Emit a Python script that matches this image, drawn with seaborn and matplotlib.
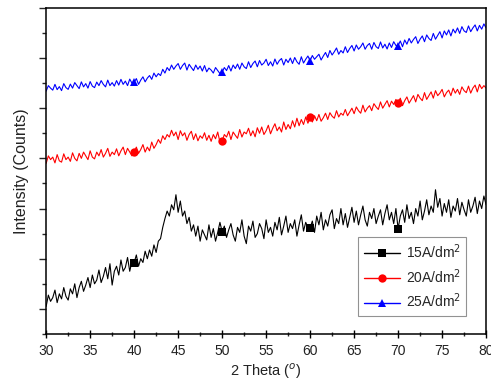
import numpy as np
import pandas as pd
import matplotlib
matplotlib.use("Agg")
import matplotlib.pyplot as plt
import seaborn as sns
from matplotlib.ticker import MultipleLocator, NullFormatter

two_theta = [30 + 0.25 * i for i in range(201)]

i_15 = [
    1.10, 1.55, 1.30, 1.45, 1.75, 1.25, 1.60, 1.40, 1.85, 1.50, 1.35, 1.80,
    1.60, 2.00, 1.45, 1.85, 2.10, 1.70, 1.95, 2.25, 1.85, 2.35, 2.00, 2.15,
    2.55, 2.05, 2.30, 2.65, 2.20, 2.80, 1.95, 2.50, 2.70, 2.35, 2.95, 2.50,
    2.65, 3.05, 2.50, 2.90, 2.84, 3.15, 2.70, 3.00, 2.85, 3.30, 3.00, 3.35,
    3.10, 3.55, 3.25, 3.70, 3.80, 4.25, 4.60, 4.90, 4.70, 5.15, 4.95, 5.55,
    4.85, 5.30, 4.70, 4.90, 4.40, 4.65, 4.10, 4.35, 3.90, 4.30, 3.70, 4.15,
    3.95, 3.75, 4.35, 3.85, 4.20, 3.70, 4.05, 4.45, 4.08, 4.30, 3.85, 4.15,
    4.40, 3.95, 3.70, 4.25, 4.05, 4.55, 3.90, 3.60, 4.30, 4.10, 4.50, 3.85,
    4.00, 4.40, 4.20, 3.80, 4.55, 4.05, 4.25, 3.90, 4.45, 4.15, 4.65, 3.95,
    4.30, 4.70, 4.05, 4.40, 4.20, 4.55, 3.90, 4.35, 4.75, 4.10, 4.45, 4.25,
    4.23, 4.50, 4.05, 4.70, 4.35, 4.85, 4.15, 4.55, 4.30, 4.75, 4.95, 4.20,
    4.60, 4.40, 5.00, 4.35, 4.80, 4.25, 4.65, 5.05, 4.45, 4.90, 4.35, 4.75,
    5.10, 4.55, 4.30, 4.85, 4.60, 5.00, 4.40, 4.70, 4.95, 4.35, 4.80, 5.15,
    4.55, 4.85, 4.40, 5.00, 4.19, 4.70, 4.95, 4.45, 5.15, 4.60, 4.85, 4.40,
    5.00, 4.70, 5.30, 4.55, 4.90, 5.35, 4.75, 5.10, 4.85, 5.75, 5.05, 5.40,
    4.70, 5.20, 4.85, 5.35, 4.65, 5.10, 4.90, 5.40, 4.75, 5.25, 4.95, 4.70,
    5.35, 4.85, 5.10, 5.45, 4.80, 5.30, 5.00, 5.50, 5.15,
]

i_20 = [
    6.80, 7.10, 6.95, 7.05, 6.82, 7.15, 6.90, 6.85, 7.18, 6.95, 7.05, 6.88,
    7.22, 7.00, 6.90, 7.20, 7.00, 7.25, 7.10, 6.95, 7.30, 7.05, 6.98, 7.25,
    7.10, 7.35, 7.05, 7.20, 7.40, 7.08, 7.25, 7.15, 7.38, 7.10, 7.30, 7.45,
    7.15, 7.40, 7.25, 7.10, 7.24, 7.45, 7.20, 7.35, 7.55, 7.25, 7.45, 7.30,
    7.65, 7.40, 7.55, 7.75, 7.60, 7.90, 7.75, 7.95, 7.85, 8.12, 7.90, 8.05,
    7.75, 8.10, 7.90, 8.02, 7.72, 7.95, 8.08, 7.75, 7.98, 7.70, 7.90, 7.80,
    8.02, 7.72, 7.92, 7.68, 7.95, 7.78, 8.05, 7.65, 7.69, 7.95, 7.85, 8.08,
    7.75, 8.05, 7.92, 7.80, 8.15, 7.85, 8.05, 7.98, 8.20, 7.90, 8.10, 7.86,
    8.22, 8.00, 8.25, 7.95, 8.10, 8.32, 7.98, 8.20, 8.38, 8.10, 8.25, 8.05,
    8.45, 8.15, 8.35, 8.18, 8.50, 8.25, 8.60, 8.30, 8.55, 8.35, 8.65, 8.40,
    8.63, 8.45, 8.70, 8.50, 8.75, 8.48, 8.62, 8.80, 8.55, 8.82, 8.68, 8.60,
    8.90, 8.65, 8.80, 8.72, 8.95, 8.70, 8.85, 9.00, 8.78, 9.05, 8.90, 8.80,
    9.12, 8.85, 9.00, 9.10, 8.90, 9.18, 9.05, 8.95, 9.25, 9.00, 9.15, 9.30,
    9.05, 9.28, 9.15, 9.35, 9.20, 9.40, 9.10, 9.30, 9.45, 9.20, 9.35, 9.50,
    9.25, 9.55, 9.40, 9.30, 9.62, 9.35, 9.50, 9.65, 9.40, 9.70, 9.50, 9.60,
    9.75, 9.45, 9.62, 9.72, 9.50, 9.80, 9.60, 9.75, 9.55, 9.85, 9.70, 9.62,
    9.88, 9.60, 9.80, 9.92, 9.65, 9.95, 9.78, 9.90, 9.80,
]

i_25 = [
    9.68, 9.90, 9.80, 9.72, 9.95, 9.74, 9.86, 9.70, 9.98, 9.82, 9.75, 9.96,
    9.80, 10.02, 9.90, 9.78, 10.05, 9.85, 9.98, 9.80, 10.06, 9.88, 9.82, 10.04,
    9.90, 10.10, 9.95, 9.85, 10.12, 9.90, 10.02, 9.88, 10.10, 9.92, 10.15, 9.95,
    10.08, 9.90, 10.16, 10.00, 10.03, 10.18, 9.95, 10.12, 10.25, 10.05, 10.20, 10.30,
    10.15, 10.40, 10.25, 10.38, 10.30, 10.55, 10.40, 10.62, 10.50, 10.72, 10.55, 10.68,
    10.78, 10.55, 10.70, 10.80, 10.52, 10.75, 10.62, 10.50, 10.72, 10.55, 10.68, 10.48,
    10.70, 10.45, 10.60, 10.52, 10.40, 10.62, 10.50, 10.38, 10.43, 10.62, 10.50, 10.70,
    10.48, 10.72, 10.58, 10.76, 10.55, 10.80, 10.65, 10.58, 10.85, 10.62, 10.78, 10.88,
    10.65, 10.90, 10.72, 10.80, 10.95, 10.70, 10.85, 10.68, 10.96, 10.75, 10.90, 10.98,
    10.72, 10.95, 10.82, 11.00, 10.78, 11.02, 10.85, 10.75, 11.05, 10.80, 10.95, 11.08,
    10.89, 11.10, 10.95, 11.05, 11.15, 10.92, 11.08, 11.22, 11.02, 11.30, 11.12, 11.25,
    11.40, 11.15, 11.30, 11.20, 11.45, 11.22, 11.38, 11.50, 11.28, 11.52, 11.35, 11.45,
    11.60, 11.35, 11.50, 11.58, 11.35, 11.62, 11.45, 11.38, 11.64, 11.40, 11.55, 11.36,
    11.60, 11.42, 11.65, 11.50, 11.49, 11.68, 11.45, 11.72, 11.55, 11.78, 11.60, 11.74,
    11.85, 11.58, 11.75, 11.88, 11.65, 11.92, 11.78, 11.70, 11.98, 11.75, 11.90, 12.05,
    11.80, 12.08, 11.92, 12.12, 11.88, 12.15, 12.00, 12.20, 11.98, 12.25, 12.08, 12.02,
    12.28, 12.05, 12.20, 12.32, 12.08, 12.30, 12.15, 12.36, 12.20,
]

labels = ["15A/dm$^2$", "20A/dm$^2$", "25A/dm$^2$"]
colors = ["#000000", "#ff0000", "#0000ff"]
markers = ["s", "o", "^"]
marker_x = [40, 50, 60, 70]

sns.set_style("ticks")
plt.rcParams["font.family"] = ["Liberation Sans", "DejaVu Sans"]

fig = plt.figure(figsize=(4.91, 3.92), dpi=100)
ax = fig.add_axes([0.094, 0.148, 0.896, 0.832])

mark_idx = [two_theta.index(float(m)) for m in marker_x]
for vals, lab, col, mk in zip([i_15, i_20, i_25], labels, colors, markers):
    df = pd.DataFrame({"x": two_theta, "y": vals})
    sns.lineplot(data=df, x="x", y="y", ax=ax, color=col, lw=0.8,
                 marker=mk, markersize=6, markevery=mark_idx,
                 markeredgewidth=0, label=lab, estimator=None)

ax.set_xlim(30, 80)
ax.set_ylim(0, 13)
ax.xaxis.set_major_locator(MultipleLocator(5))
ax.xaxis.set_minor_locator(MultipleLocator(2.5))
ax.yaxis.set_major_locator(MultipleLocator(2, offset=1))
ax.yaxis.set_minor_locator(MultipleLocator(1))
ax.yaxis.set_major_formatter(NullFormatter())
ax.tick_params(axis="x", which="major", direction="inout", length=6, width=1,
               labelsize=10, pad=4, colors="#000000", labelcolor="#222222")
ax.tick_params(axis="x", which="minor", direction="inout", length=3.5, width=1)
ax.tick_params(axis="y", which="major", direction="out", length=5, width=1)
ax.tick_params(axis="y", which="minor", direction="out", length=3, width=1)
for sp in ax.spines.values():
    sp.set_visible(True)
    sp.set_linewidth(1.1)
    sp.set_color("#000000")

ax.set_xlabel("2 Theta ($^o$)", fontsize=10.5, color="#222222", labelpad=3)
ax.set_ylabel("Intensity (Counts)", fontsize=11.5, color="#222222", labelpad=4)

leg = ax.legend(loc="lower right", bbox_to_anchor=(0.955, 0.055), fontsize=10,
                frameon=True, fancybox=False, edgecolor="#777777",
                handlelength=2.6, handletextpad=0.4, borderpad=0.4,
                labelspacing=0.45, borderaxespad=0)
leg.get_frame().set_linewidth(0.8)
for h in leg.legend_handles:
    h.set_linewidth(1.0)

fig.savefig("out.png", dpi=100)
